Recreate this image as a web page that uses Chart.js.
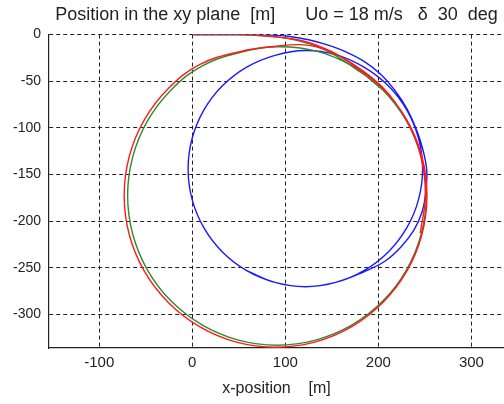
<!DOCTYPE html>
<html>
<head>
<meta charset="utf-8">
<script src="https://cdn.jsdelivr.net/npm/chart.js@4/dist/chart.umd.min.js"></script>
<style>
  html, body { margin: 0; padding: 0; background: #fff; }
  #wrap { width: 504px; height: 404px; }
</style>
</head>
<body>
<div id="wrap"><canvas id="xyChart" width="504" height="404"></canvas></div>
<script>
// tick labels
const xTicks = [-100, 0, 100, 200, 300];
const yTicks = [0, -50, -100, -150, -200, -250, -300];

// trajectories, [x, y] in metres
const redPath = [
  [0, 0], [25, 0], [50, 0], [65, -0.5], [80, -1.5], [95, -3], [110, -5], [125, -8.5],
  [140, -14], [155, -21], [170.9, -31.6], [204.5, -57.5], [230.4, -91.2], [246.7, -130.4],
  [252.2, -172.5], [246.7, -214.6], [230.4, -253.9], [204.5, -287.5], [170.9, -313.4],
  [131.6, -329.7], [89.5, -335.2], [47.4, -329.7], [8.2, -313.4], [-25.5, -287.5],
  [-51.4, -253.9], [-67.7, -214.6], [-73.2, -172.5], [-67.7, -130.4], [-51.4, -91.2],
  [-25.5, -57.5], [8.3, -32], [50, -18.5], [90, -12.5], [121, -11], [145, -17],
  [172, -31], [204, -56], [229.5, -90.5], [245.5, -130], [250.5, -172], [245, -213]
];
const greenPath = [
  [0, 0], [25, 0], [50, 0], [65, -0.5], [80, -1.5], [95, -3], [110, -5.5], [125, -9.5],
  [140, -15], [155, -23], [171, -33.5], [204.5, -59], [230, -92.3], [246, -131],
  [251.5, -172.5], [246, -214], [230, -252.7], [204.5, -286], [171.3, -311.5],
  [132.5, -327.5], [91, -333], [49.5, -327.5], [10.8, -311.5], [-22.5, -286],
  [-48, -252.7], [-64, -214], [-69.5, -172.5], [-64, -131], [-48, -92.3],
  [-22.5, -59], [10.8, -33.5], [50, -19.5], [91, -13], [132.5, -17.5], [171.3, -33.5],
  [204.5, -59]
];
const bluePath = [
  [0, 0], [30, 0], [60, 0], [85, -0.5], [105, -2], [125, -5.5], [145, -11], [165, -18.5],
  [185, -29], [203, -43], [218, -60], [231, -80], [241, -102], [248, -124], [252, -146],
  [251, -168], [247, -190], [238, -210], [224, -228], [207, -243], [185, -254],
  [154.1, -265.7], [121.5, -270.3], [88.9, -265.7], [58.5, -253.1],
  [32.4, -233.1], [12.4, -207], [-0.2, -176.6], [-4.5, -144], [-0.2, -111.4],
  [12.4, -81], [32.4, -54.9], [58.5, -34.9], [88.9, -22.3], [121.5, -17], [154.1, -21.5],
  [184.5, -34.9], [210.6, -54.9], [230.6, -81], [243.2, -111.4], [247.5, -144],
  [243.2, -176.6], [230.6, -207], [210.6, -233.1], [184.5, -253.1], [154.1, -265.7],
  [121.5, -270.3], [88.9, -265.7], [58.5, -253.1]
];

function toPoints(path){ return path.map(function(p){ return { x: p[0], y: p[1] }; }); }

const FONT = "'Liberation Sans', Arial, sans-serif";
const INK = '#222';

document.addEventListener('DOMContentLoaded', function(){
  const ctx = document.getElementById('xyChart');
  const lineSet = function(label, path, color){
    return {
      label: label,
      data: toPoints(path),
      showLine: true,
      borderColor: color,
      borderWidth: 1.4,
      pointRadius: 0,
      tension: 0.4,
      fill: false
    };
  };
  new Chart(ctx, {
    type: 'scatter',
    data: {
      datasets: [
        lineSet('red', redPath, '#ff1a1a'),
        lineSet('green', greenPath, '#2e8b2e'),
        lineSet('blue', bluePath, '#1a1aff')
      ]
    },
    options: {
      responsive: false,
      animation: false,
      layout: { padding: 0 },
      plugins: {
        legend: { display: false },
        tooltip: { enabled: false },
        title: {
          display: true,
          fullSize: false,
          text: 'Position in the xy plane  [m]      Uo = 18 m/s   \u03b4  30  deg',
          color: INK,
          font: { family: FONT, size: 18, weight: 'normal' },
          padding: { top: 4, bottom: 9 }
        }
      },
      scales: {
        x: {
          type: 'linear',
          min: -154,
          max: 335,
          afterBuildTicks: function(scale){ scale.ticks = xTicks.map(function(v){ return { value: v }; }); },
          afterFit: function(scale){ scale.height = 56; },
          ticks: { color: INK, font: { family: FONT, size: 15 }, padding: 6, maxRotation: 0 },
          grid: { color: INK, lineWidth: 1, drawTicks: false },
          border: { display: true, color: INK, width: 1.2, dash: [4, 3] },
          title: {
            display: true,
            text: 'x-position    [m]',
            color: INK,
            font: { family: FONT, size: 16 },
            padding: { top: 0, bottom: 6 }
          }
        },
        y: {
          type: 'linear',
          min: -336,
          max: 0,
          afterBuildTicks: function(scale){ scale.ticks = yTicks.map(function(v){ return { value: v }; }); },
          afterFit: function(scale){ scale.width = 49; },
          ticks: { color: INK, font: { family: FONT, size: 14 }, padding: 8 },
          grid: { color: INK, lineWidth: 1, drawTicks: false },
          border: { display: true, color: INK, width: 1.2, dash: [4, 3] }
        }
      }
    }
  });
});
</script>
</body>
</html>
